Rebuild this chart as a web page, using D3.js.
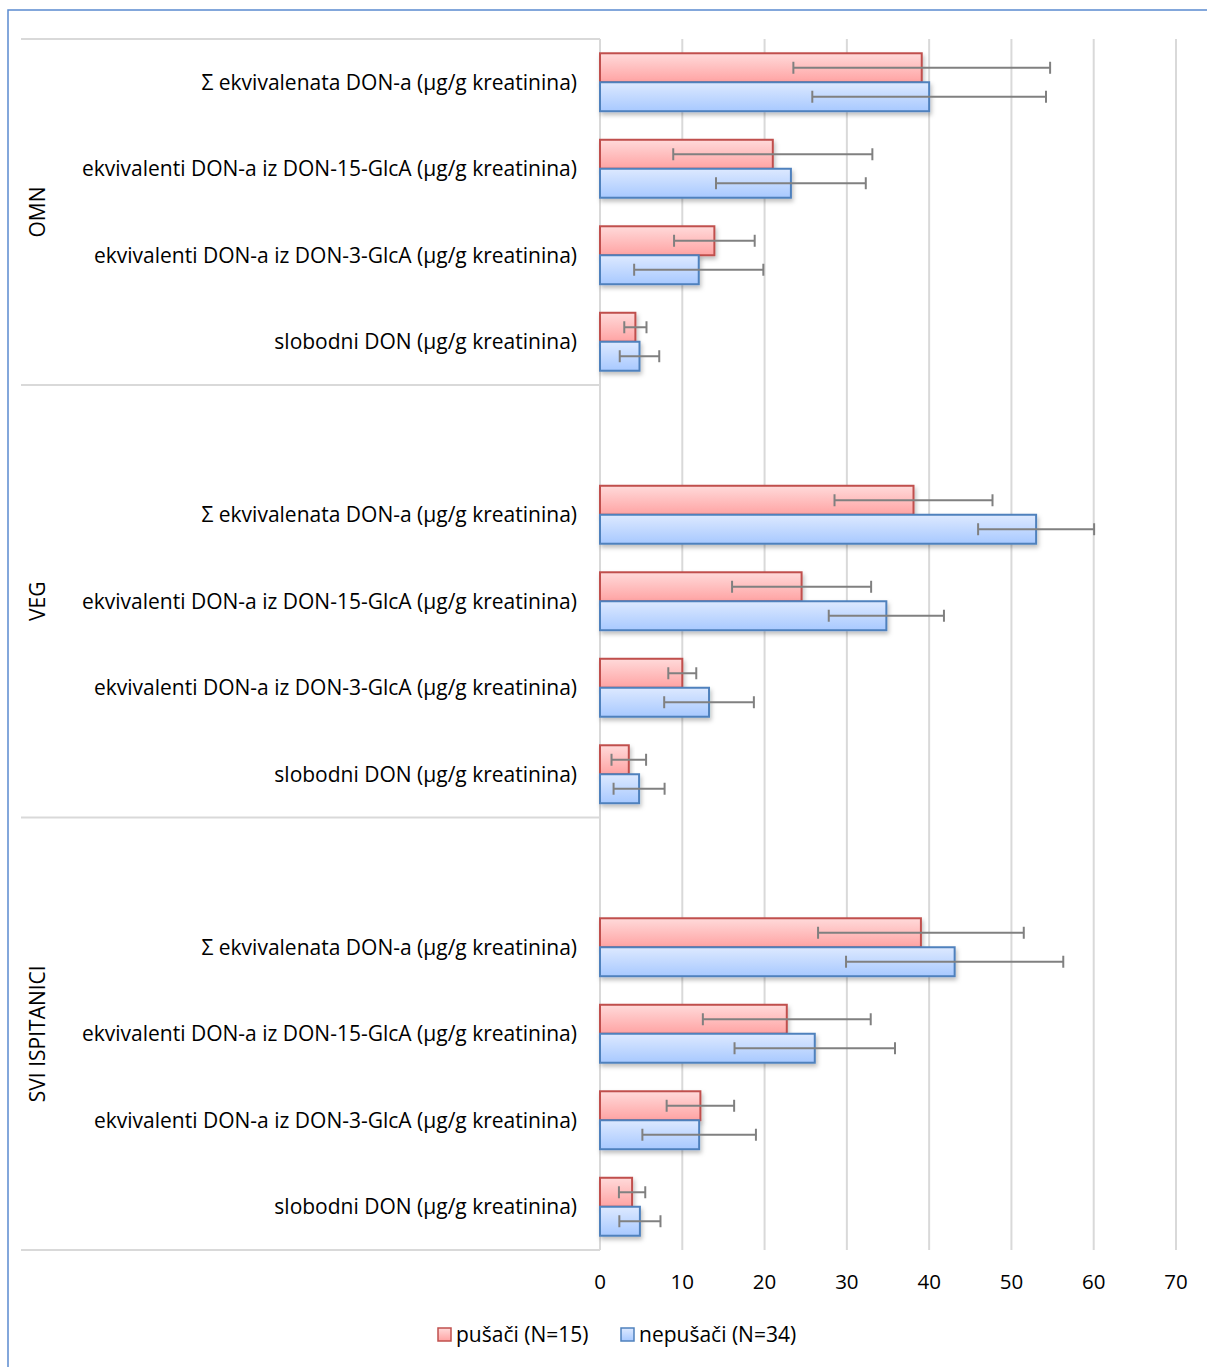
<!DOCTYPE html>
<html><head><meta charset="utf-8">
<script src="https://cdn.jsdelivr.net/npm/d3@7"></script>
<style>body{margin:0;background:#fff;} text{font-family:"Open Sans",sans-serif;fill:#000;}</style>
</head><body>
<svg id="chart" width="1207" height="1367"></svg>
<script>
const groups = ["OMN", "VEG", "SVI ISPITANICI"];
const categories = [
  "Σ ekvivalenata DON-a (μg/g kreatinina)",
  "ekvivalenti DON-a iz DON-15-GlcA (μg/g kreatinina)",
  "ekvivalenti DON-a iz DON-3-GlcA (μg/g kreatinina)",
  "slobodni DON (μg/g kreatinina)"
];
const seriesNames = ["pušači (N=15)", "nepušači (N=34)"];
// values per group, in category order
const smokers = [
  [39.1, 21.0, 13.9, 4.3],
  [38.1, 24.5, 10.0, 3.5],
  [39.0, 22.7, 12.2, 3.9]
];
const smokersSD = [
  [15.6, 12.1, 4.9, 1.35],
  [9.6, 8.45, 1.7, 2.1],
  [12.5, 10.2, 4.1, 1.6]
];
const nonSmokers = [
  [40.0, 23.2, 12.0, 4.8],
  [53.0, 34.8, 13.25, 4.75],
  [43.1, 26.1, 12.05, 4.85]
];
const nonSmokersSD = [
  [14.2, 9.1, 7.85, 2.4],
  [7.05, 7.0, 5.45, 3.1],
  [13.2, 9.75, 6.9, 2.5]
];
const xTicks = [0, 10, 20, 30, 40, 50, 60, 70];

const svg = d3.select("#chart");
const pLeft = 600, pRight = 1176, pTop = 39, pBottom = 1250;

// frame
svg.append("rect").attr("x", 8).attr("y", 10).attr("width", 1260).attr("height", 1420)
  .attr("fill", "none").attr("stroke", "#5b8bd0").attr("stroke-width", 1.5);

const defs = svg.append("defs");
function grad(id, c1, c2) {
  const g = defs.append("linearGradient").attr("id", id).attr("x1", 0).attr("y1", 0).attr("x2", 0).attr("y2", 1);
  g.append("stop").attr("offset", "0%").attr("stop-color", c1);
  g.append("stop").attr("offset", "100%").attr("stop-color", c2);
}
grad("gRed", "#ffdada", "#ffa3a3");
grad("gBlue", "#dde9ff", "#a8c9ff");
const f = defs.append("filter").attr("id", "shadow").attr("x", "-10%").attr("y", "-20%").attr("width", "130%").attr("height", "160%");
f.append("feDropShadow").attr("dx", 1.5).attr("dy", 3).attr("stdDeviation", 2).attr("flood-color", "#000").attr("flood-opacity", 0.25);

// slots: each group (except first) has a leading blank slot
const slots = [];
groups.forEach((g, gi) => {
  if (gi > 0) slots.push({ key: g + "_blank", blank: true, gi });
  categories.forEach((c, ci) => slots.push({ key: g + "_" + ci, gi, ci, label: c }));
});

const x = d3.scaleLinear().domain([0, 70]).range([pLeft, pRight]);
const y = d3.scaleBand().domain(slots.map(s => s.key)).range([pTop, pBottom]).paddingInner(0.33).paddingOuter(0.165);
const sub = d3.scaleBand().domain([0, 1]).range([0, y.bandwidth()]);

// gridlines
svg.append("g").selectAll("line").data(xTicks).join("line")
  .attr("x1", d => x(d)).attr("x2", d => x(d)).attr("y1", pTop).attr("y2", pBottom)
  .attr("stroke", "#d9d9d9").attr("stroke-width", 2);

// group separators
const step = y.step();
const bounds = [pTop];
let idx = 0;
groups.forEach((g, gi) => {
  idx += categories.length + (gi > 0 ? 1 : 0);
  bounds.push(pTop + idx * step);
});
svg.append("g").selectAll("line").data(bounds).join("line")
  .attr("x1", 21).attr("x2", pLeft).attr("y1", d => d).attr("y2", d => d)
  .attr("stroke", "#d9d9d9").attr("stroke-width", 2);

// group labels
groups.forEach((g, gi) => {
  const cy = (bounds[gi] + bounds[gi + 1]) / 2;
  svg.append("text").attr("transform", `translate(45,${cy}) rotate(-90)`)
    .attr("text-anchor", "middle").attr("font-size", 21).text(g);
});

// category labels
const dataSlots = slots.filter(s => !s.blank);
svg.append("g").selectAll("text").data(dataSlots).join("text")
  .attr("x", 577).attr("y", s => y(s.key) + y.bandwidth() / 2)
  .attr("dy", "0.35em").attr("text-anchor", "end").attr("font-size", 21)
  .text(s => s.label);

// bars
const series = [
  { vals: smokers, sd: smokersSD, fill: "url(#gRed)", stroke: "#c0504d" },
  { vals: nonSmokers, sd: nonSmokersSD, fill: "url(#gBlue)", stroke: "#4f81bd" }
];
series.forEach((s, si) => {
  svg.append("g").selectAll("rect").data(dataSlots).join("rect")
    .attr("x", x(0)).attr("y", d => y(d.key) + sub(si))
    .attr("width", d => x(s.vals[d.gi][d.ci]) - x(0)).attr("height", sub.bandwidth())
    .attr("fill", s.fill).attr("stroke", s.stroke).attr("stroke-width", 2)
    .attr("filter", "url(#shadow)");
});
// error bars
series.forEach((s, si) => {
  const g = svg.append("g").attr("stroke", "#808080").attr("stroke-width", 2);
  dataSlots.forEach(d => {
    const v = s.vals[d.gi][d.ci], e = s.sd[d.gi][d.ci];
    const cy = y(d.key) + sub(si) + sub.bandwidth() / 2;
    g.append("line").attr("x1", x(v - e)).attr("x2", x(v + e)).attr("y1", cy).attr("y2", cy);
    g.append("line").attr("x1", x(v - e)).attr("x2", x(v - e)).attr("y1", cy - 6).attr("y2", cy + 6);
    g.append("line").attr("x1", x(v + e)).attr("x2", x(v + e)).attr("y1", cy - 6).attr("y2", cy + 6);
  });
});

// x axis tick labels
svg.append("g").selectAll("text").data(xTicks).join("text")
  .attr("x", d => x(d)).attr("y", 1289).attr("text-anchor", "middle").attr("font-size", 20.5)
  .text(d => d);

// legend
const legend = svg.append("g");
const legendItems = [
  { name: seriesNames[0], fill: "url(#gRed)", stroke: "#c0504d", x: 438 },
  { name: seriesNames[1], fill: "url(#gBlue)", stroke: "#4f81bd", x: 621 }
];
legendItems.forEach(l => {
  legend.append("rect").attr("x", l.x).attr("y", 1328).attr("width", 13).attr("height", 13)
    .attr("fill", l.fill).attr("stroke", l.stroke).attr("stroke-width", 1.5);
  legend.append("text").attr("x", l.x + 18).attr("y", 1335).attr("dy", "0.35em")
    .attr("font-size", 21).text(l.name);
});
</script>
</body></html>
